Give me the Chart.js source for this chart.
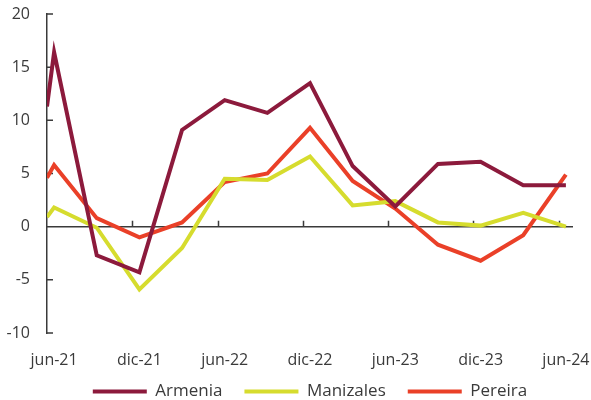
<!DOCTYPE html>
<html>
<head>
<meta charset="utf-8">
<script src="https://cdn.jsdelivr.net/npm/chart.js@4/dist/chart.umd.min.js"></script>
<style>
  body{margin:0;background:#fff;}
  #wrap{width:591px;height:400px;}
</style>
</head>
<body>
<div id="wrap"><canvas id="cityChart"></canvas></div>
<script>
// months counted from the start of jun-21 (each point sits mid-month)
const xMonths = [0, 0.5, 3.5, 6.5, 9.5, 12.5, 15.5, 18.5, 21.5, 24.5, 27.5, 30.5, 33.5, 36.5];
const labelMonths = [0.5, 6.5, 12.5, 18.5, 24.5, 30.5, 36.5];
const tickLabels = ["jun-21","dic-21","jun-22","dic-22","jun-23","dic-23","jun-24"];

const armenia   = [11.3, 16.4, -2.7, -4.3, 9.1, 11.9, 10.7, 13.5, 5.7, 1.9, 5.9, 6.1, 3.9, 3.9];
const manizales = [0.9, 1.8, -0.1, -5.9, -2.0, 4.5, 4.4, 6.6, 2.0, 2.4, 0.4, 0.1, 1.3, 0.0];
const pereira   = [4.6, 5.8, 0.8, -1.0, 0.4, 4.2, 5.0, 9.3, 4.3, 1.7, -1.7, -3.2, -0.8, 4.9];

const ink = "#3a3a3a";
const font = "'Open Sans', sans-serif";

function points(vals){
    return vals.map((v,i)=>({x:xMonths[i], y:v}));
}

const axisMarks = {
    id:"axisMarks",
    beforeLayout(chart){
        // squeeze the legend box so it sits close under the month labels
        const lg = chart.legend;
        if(lg && !lg._squeezed){
            const fit = lg.fit;
            lg.fit = function(){ fit.call(this); this.height = 39; };
            lg._squeezed = true;
        }
    },
    beforeDatasetsDraw(chart){
        const {ctx, chartArea, scales:{x, y}} = chart;
        const y0 = y.getPixelForValue(0);
        ctx.save();
        ctx.strokeStyle = ink;
        ctx.lineWidth = 1.5;
        ctx.beginPath();
        ctx.moveTo(chartArea.left, y0);
        ctx.lineTo(chartArea.right, y0);
        labelMonths.forEach(m=>{
            if(m>1){
                const px = Math.round(x.getPixelForValue(m-0.5))+0.5;
                ctx.moveTo(px, y0);
                ctx.lineTo(px, y0-6);
            }
        });
        y.ticks.forEach(t=>{
            const py = y.getPixelForValue(t.value);
            ctx.moveTo(chartArea.left, py);
            ctx.lineTo(chartArea.left+6, py);
        });
        ctx.stroke();
        ctx.restore();
    }
};

const ctx = document.getElementById("cityChart").getContext("2d");
new Chart(ctx,{
    type:"line",
    data:{
        datasets:[
            {label:"Armenia", data:points(armenia), borderColor:"#8c1a3c", backgroundColor:"#8c1a3c"},
            {label:"Manizales", data:points(manizales), borderColor:"#d6dc2e", backgroundColor:"#d6dc2e"},
            {label:"Pereira", data:points(pereira), borderColor:"#ea4028", backgroundColor:"#ea4028"}
        ]
    },
    options:{
        responsive:true,
        maintainAspectRatio:false,
        animation:false,
        layout:{padding:{top:14, right:18, bottom:0, left:0}},
        elements:{
            line:{borderWidth:4, tension:0, borderJoinStyle:"miter"},
            point:{radius:0, hoverRadius:0}
        },
        scales:{
            x:{
                type:"linear",
                min:0,
                max:37,
                border:{display:false},
                grid:{display:false, drawTicks:false},
                afterBuildTicks:s=>{ s.ticks = labelMonths.map(v=>({value:v})); },
                afterFit:s=>{
                    s.height = 28;
                    s.paddingLeft = 0;
                    s.paddingRight = 0;
                    s._computeLabelArea = ()=>undefined; // let the month labels overflow the thin axis box
                },
                ticks:{
                    autoSkip:false,
                    maxRotation:0,
                    padding:18,
                    color:ink,
                    font:{family:font, size:16},
                    callback:v=>tickLabels[labelMonths.indexOf(v)]
                }
            },
            y:{
                min:-10,
                max:20,
                border:{display:true, color:ink, width:1.5},
                grid:{drawOnChartArea:false, drawTicks:false},
                ticks:{stepSize:5, padding:17, color:ink, font:{family:font, size:16}},
                afterFit:s=>{
                    s.width = 47;
                    s.paddingTop = 0;
                    s.paddingBottom = 0;
                    s._computeLabelArea = ()=>undefined;
                }
            }
        },
        plugins:{
            tooltip:{enabled:false},
            legend:{
                position:"bottom",
                fullSize:false,
                labels:{
                    boxWidth:54,
                    boxHeight:4,
                    padding:22,
                    color:ink,
                    font:{family:font, size:17},
                    generateLabels:chart=>Chart.defaults.plugins.legend.labels.generateLabels(chart).map(l=>({...l, lineWidth:0}))
                }
            }
        }
    },
    plugins:[axisMarks]
});
</script>
</body>
</html>
